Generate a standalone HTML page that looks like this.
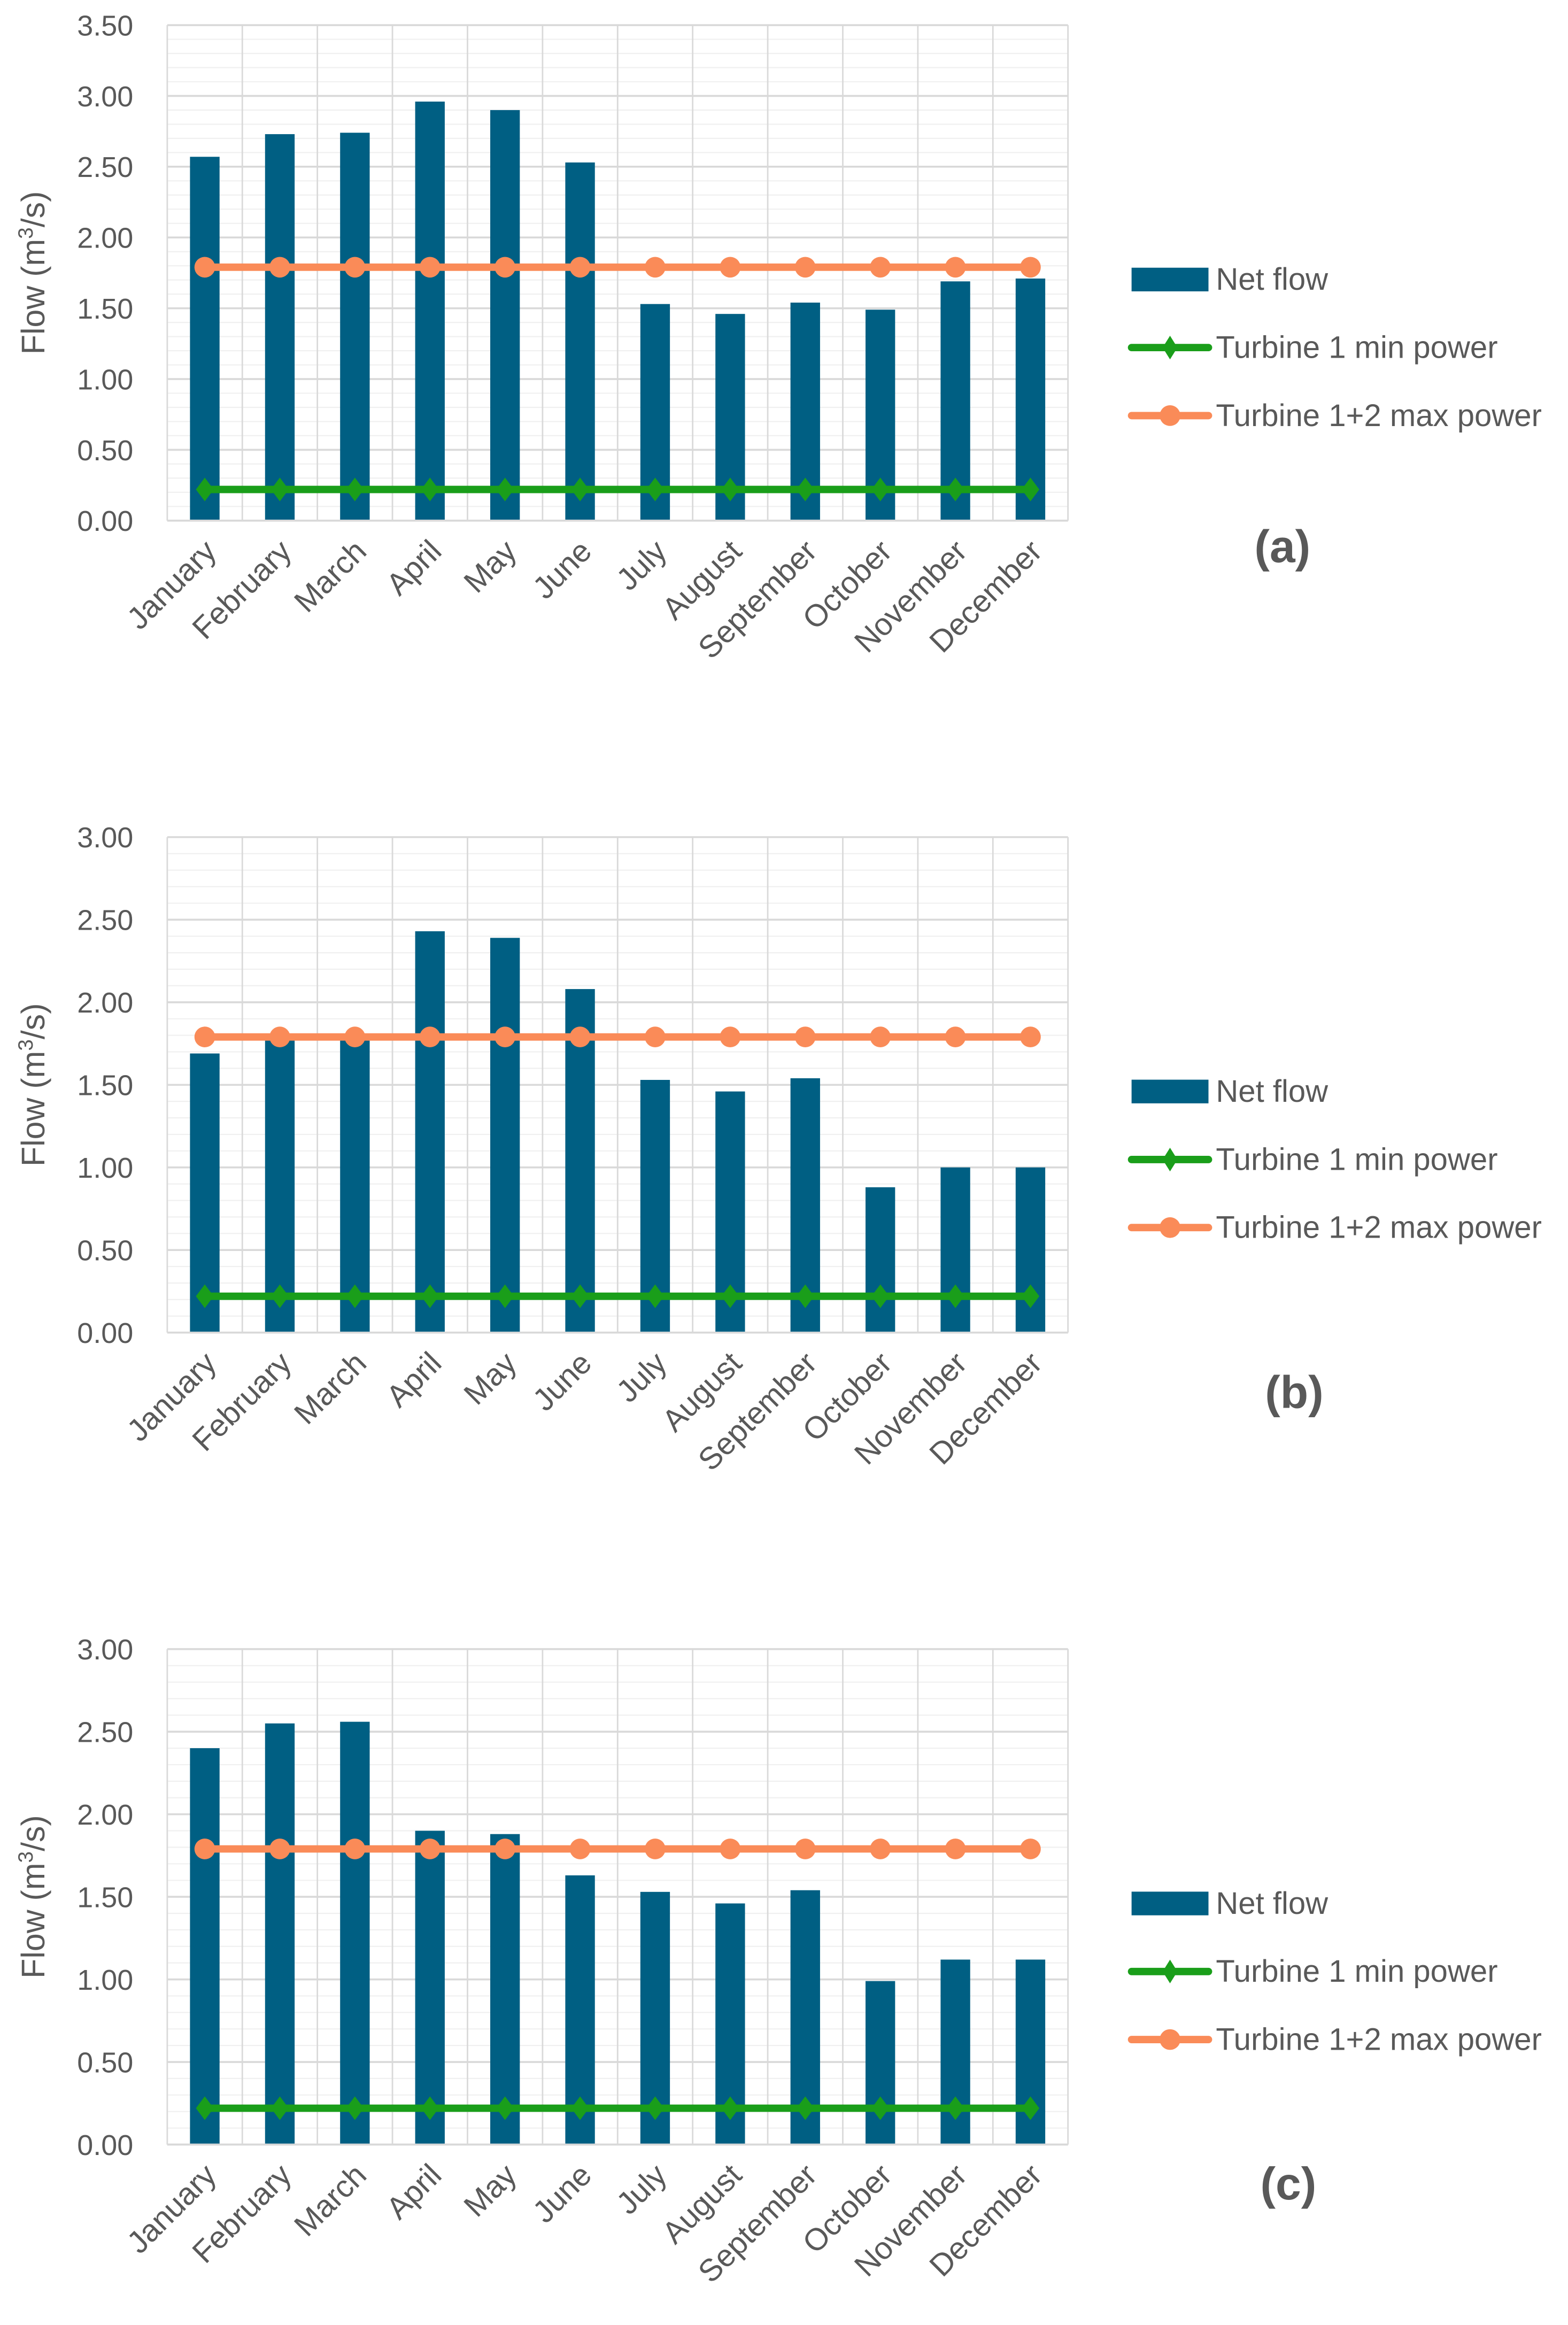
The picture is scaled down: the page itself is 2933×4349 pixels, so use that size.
<!DOCTYPE html>
<html><head><meta charset="utf-8"><style>
html,body{margin:0;padding:0;background:#fff;}
svg{display:block;}
text{font-family:"Liberation Sans",sans-serif;fill:#595959;}
</style></head>
<body>
<svg id="chart" xmlns="http://www.w3.org/2000/svg" width="2933" height="4349" viewBox="0 0 1060 1572"></svg>
<script>
const months = ["January","February","March","April","May","June","July","August","September","October","November","December"];
const netFlowA = [2.57,2.73,2.74,2.96,2.90,2.53,1.53,1.46,1.54,1.49,1.69,1.71];
const netFlowB = [1.69,1.80,1.80,2.43,2.39,2.08,1.53,1.46,1.54,0.88,1.00,1.00];
const netFlowC = [2.40,2.55,2.56,1.90,1.88,1.63,1.53,1.46,1.54,0.99,1.12,1.12];
const turbine1Min = [0.22,0.22,0.22,0.22,0.22,0.22,0.22,0.22,0.22,0.22,0.22,0.22];
const turbine12Max = [1.79,1.79,1.79,1.79,1.79,1.79,1.79,1.79,1.79,1.79,1.79,1.79];
const yMaxA = 3.5, yMaxB = 3.0, yMaxC = 3.0;
const panelLabels = ["(a)","(b)","(c)"];

const NS = "http://www.w3.org/2000/svg";
const svg = document.getElementById('chart');
function mk(tag, attrs, parent){
  const e = document.createElementNS(NS, tag);
  for (const k in attrs) e.setAttribute(k, attrs[k]);
  (parent||svg).appendChild(e);
  return e;
}

function panel(idx, top, yMax, flows, legY, lab){
  const g = mk('g', {});
  
  
  const L = 113, R = 722, B = top + 335;
  const y = v => B - (v / yMax) * (B - top);
  const bw = (R - L) / months.length;
  const xc = i => L + bw * (i + 0.5);
  for (let v = 0; v <= yMax + 1e-9; v += 0.1) {
    const major = Math.abs(v*2 - Math.round(v*2)) < 1e-6;
    const ln = mk('line', {x1:L, x2:R, y1:y(v), y2:y(v), stroke: major ? '#d9d9d9' : '#f0f0f0', 'stroke-width': major ? 1.3 : 0.8}, g);
    
    
  }
  for (let i = 0; i <= months.length; i++) {
    const ln = mk('line', {x1:L+bw*i, x2:L+bw*i, y1:top, y2:B, stroke:'#d9d9d9', 'stroke-width':1}, g);
    
    
  }
  for (let k = 0; k <= Math.round(yMax/0.5); k++) {
    const v = k*0.5;
    const t = mk('text', {x:90, y:y(v)+7, 'text-anchor':'end', 'font-size':19.5}, g);
    t.textContent = v.toFixed(2);
    
    
  }
  const cy = (top + B) / 2;
  const yt = mk('text', {x:0, y:0, 'text-anchor':'middle', 'font-size':22, transform:`translate(30,${cy}) rotate(-90)`}, g);
  yt.innerHTML = 'Flow (m<tspan font-size="14" dy="-8">3</tspan><tspan dy="8">/s)</tspan>';
  
  
  flows.forEach((v, i) => {
    const r = mk('rect', {x:xc(i)-10, y:y(v), width:20, height:B-y(v), fill:'#005f83'}, g);
    
    
  });
  function series(vals, color, marker, name){
    const pts = vals.map((v,i)=> xc(i)+','+y(v)).join(' ');
    const pl = mk('polyline', {points:pts, fill:'none', stroke:color, 'stroke-width':5}, g);
    
    
    vals.forEach((v,i)=>{
      let m;
      if (marker === 'circle') m = mk('circle', {cx:xc(i), cy:y(v), r:7, fill:color}, g);
      else { const X=xc(i), Y=y(v); m = mk('polygon', {points:`${X},${Y-8} ${X+6},${Y} ${X},${Y+8} ${X-6},${Y}`, fill:color}, g); }
      
      
    });
  }
  series(turbine1Min, '#1a9e1a', 'diamond', 'turbine-1-min-power');
  series(turbine12Max, '#fa8b58', 'circle', 'turbine-1-2-max-power');
  const ax = mk('line', {x1:L, x2:R, y1:B, y2:B, stroke:'#d9d9d9', 'stroke-width':1.3}, g);
  
  
  months.forEach((m, i) => {
    const t = mk('text', {x:0, y:0, 'text-anchor':'end', 'font-size':21, transform:`translate(${xc(i)+9},${B+22}) rotate(-45)`}, g);
    t.textContent = m;
    
    
  });
  const lg = mk('g', {}, g);
  
  
  const e1 = mk('rect', {x:765, y:legY-7, width:52, height:16, fill:'#005f83'}, lg);
  
  
  const names = ['Net flow','Turbine 1 min power','Turbine 1+2 max power'];
  names.forEach((n, k) => {
    const ty = legY + k*46;
    const t = mk('text', {x:822, y:ty+8, 'font-size':21}, lg);
    t.textContent = n;
    
    
  });
  const y2 = legY + 47, y3 = legY + 93;
  const l2 = mk('line', {x1:765, x2:817, y1:y2, y2:y2, stroke:'#1a9e1a', 'stroke-width':5, 'stroke-linecap':'round'}, lg);
  
  
  mk('polygon', {points:`791,${y2-8} 796,${y2} 791,${y2+8} 786,${y2}`, fill:'#1a9e1a'}, lg);
  const l3 = mk('line', {x1:765, x2:817, y1:y3, y2:y3, stroke:'#fa8b58', 'stroke-width':5, 'stroke-linecap':'round'}, lg);
  
  
  mk('circle', {cx:791, cy:y3, r:7, fill:'#fa8b58'}, lg);
  const pl = mk('text', {x:[867,875,871][idx], y:[380,952,1487][idx], 'text-anchor':'middle', 'font-size':31, 'font-weight':'bold'}, g);
  pl.textContent = lab;
  
  
}
panel(0, 17, yMaxA, netFlowA, 188, panelLabels[0]);
panel(1, 566, yMaxB, netFlowB, 737, panelLabels[1]);
panel(2, 1115, yMaxC, netFlowC, 1286, panelLabels[2]);
</script>
</body></html>
